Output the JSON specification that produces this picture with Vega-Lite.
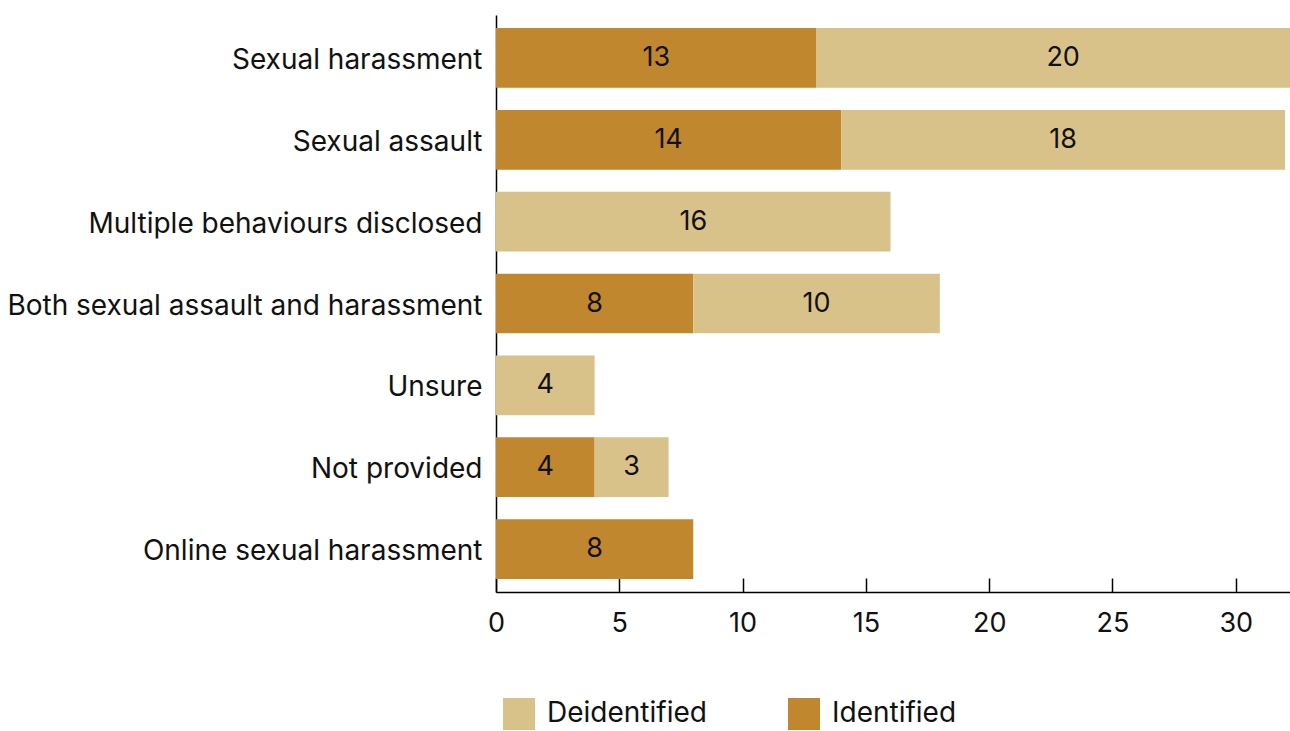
{
  "$schema": "https://vega.github.io/schema/vega-lite/v6.json",
  "autosize": {"type": "none"},
  "padding": {"left": 496, "top": 15, "right": 0, "bottom": 139},
  "width": 794,
  "height": 577,
  "background": "white",
  "config": {
    "font": "Inter",
    "view": {"stroke": null}
  },
  "data": {
    "values": [
      {"cat": "Sexual harassment", "series": "Identified", "value": 13},
      {"cat": "Sexual harassment", "series": "Deidentified", "value": 20},
      {"cat": "Sexual assault", "series": "Identified", "value": 14},
      {"cat": "Sexual assault", "series": "Deidentified", "value": 18},
      {"cat": "Multiple behaviours disclosed", "series": "Deidentified", "value": 16},
      {"cat": "Both sexual assault and harassment", "series": "Identified", "value": 8},
      {"cat": "Both sexual assault and harassment", "series": "Deidentified", "value": 10},
      {"cat": "Unsure", "series": "Deidentified", "value": 4},
      {"cat": "Not provided", "series": "Identified", "value": 4},
      {"cat": "Not provided", "series": "Deidentified", "value": 3},
      {"cat": "Online sexual harassment", "series": "Identified", "value": 8}
    ]
  },
  "transform": [
    {"stack": "value", "groupby": ["cat"], "sort": [{"field": "series", "order": "descending"}], "as": ["x0", "x1"]},
    {"calculate": "(datum.x0 + datum.x1) / 2", "as": "mid"}
  ],
  "encoding": {
    "y": {
      "field": "cat",
      "type": "nominal",
      "sort": ["Sexual harassment", "Sexual assault", "Multiple behaviours disclosed", "Both sexual assault and harassment", "Unsure", "Not provided", "Online sexual harassment"],
      "scale": {"paddingInner": 0.27, "paddingOuter": 0.16},
      "axis": {
        "title": null,
        "ticks": false,
        "domainColor": "#000000",
        "domainWidth": 1.5,
        "labelFontSize": 28,
        "labelColor": "#111111",
        "labelPadding": 14,
        "labelOffset": 3,
        "labelLimit": 700
      }
    }
  },
  "layer": [
    {
      "mark": {"type": "bar", "clip": true},
      "encoding": {
        "x": {
          "field": "x0",
          "type": "quantitative",
          "scale": {"domain": [0, 32.2], "nice": false},
          "axis": {
            "title": null,
            "grid": false,
            "values": [0, 5, 10, 15, 20, 25, 30],
            "domainColor": "#000000",
            "domainWidth": 1.5,
            "tickColor": "#000000",
            "tickWidth": 1.5,
            "tickSize": -14,
            "labelPadding": 32,
            "labelFontSize": 27,
            "labelColor": "#111111",
            "labelFlush": false
          }
        },
        "x2": {"field": "x1"},
        "color": {
          "field": "series",
          "type": "nominal",
          "scale": {"domain": ["Deidentified", "Identified"], "range": ["#D9C28A", "#C0872E"]},
          "legend": {
            "title": null,
            "orient": "none",
            "legendX": 7,
            "legendY": 683,
            "direction": "horizontal",
            "symbolType": "square",
            "symbolSize": 1024,
            "symbolStrokeWidth": 0,
            "symbolOpacity": 1,
            "labelFontSize": 28,
            "labelColor": "#111111",
            "labelOffset": 12,
            "columnPadding": 81
          }
        }
      }
    },
    {
      "mark": {"type": "text", "fontSize": 27, "color": "#111111", "align": "center", "baseline": "middle"},
      "encoding": {
        "x": {"field": "mid", "type": "quantitative"},
        "text": {"field": "value", "type": "quantitative"}
      }
    }
  ]
}
